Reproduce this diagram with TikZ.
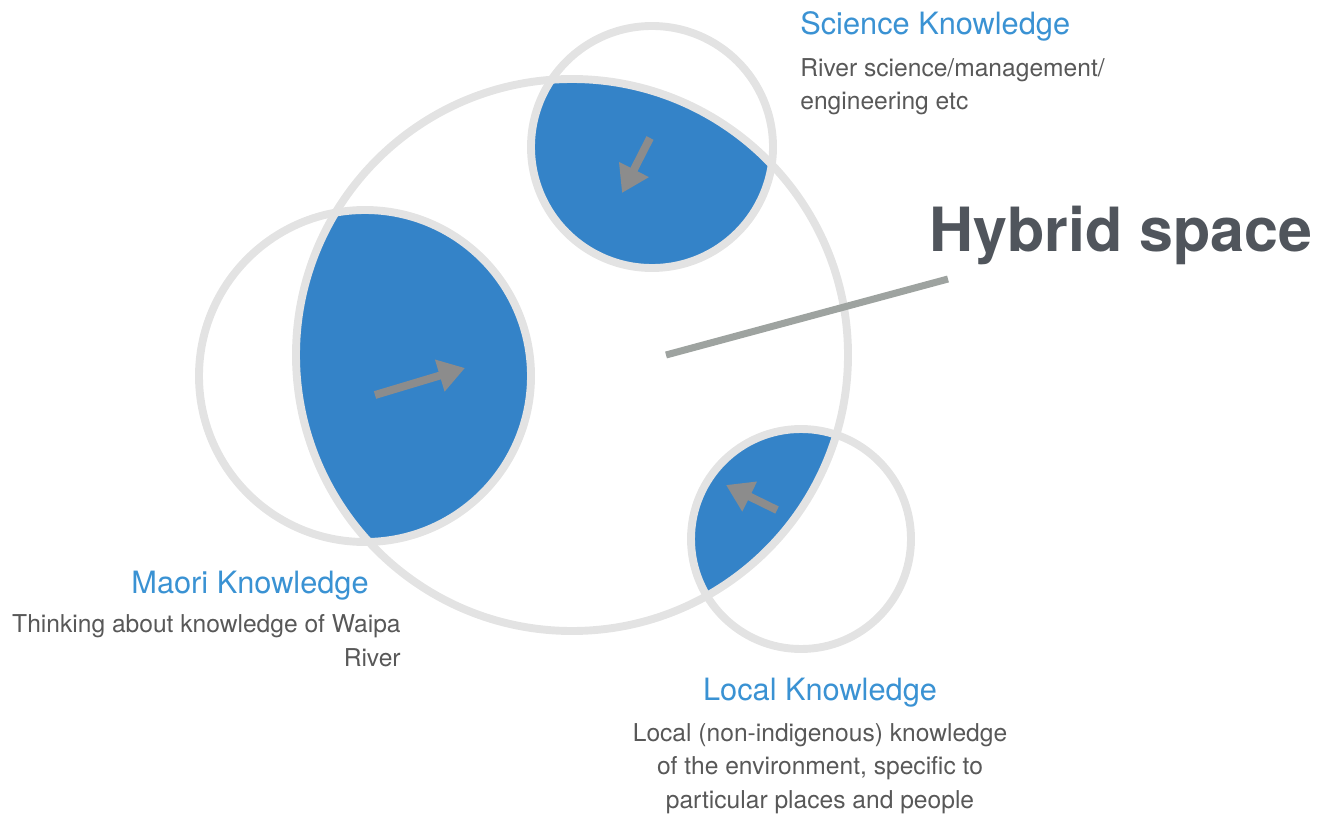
\documentclass[tikz,border=0pt]{standalone}
\usepackage{fontspec}
\setmainfont{TeX Gyre Heros}
\usetikzlibrary{arrows.meta,calc}
\definecolor{ringgray}{RGB}{227,227,227}
\definecolor{lensblue}{RGB}{52,131,200}
\definecolor{headblue}{RGB}{58,146,211}
\definecolor{bodygray}{RGB}{88,88,88}
\definecolor{arrowgray}{RGB}{140,140,140}
\definecolor{pointgray}{RGB}{158,163,160}
\definecolor{titlegray}{RGB}{80,85,92}

\begin{document}
\begin{tikzpicture}[x=0.02cm,y=-0.02cm, line join=round,
  ring/.style={draw=ringgray,line width=4.5pt},
  flow/.style={draw=arrowgray,line width=4.5pt,-{Triangle[length=15pt,width=18pt]}},
  head/.style={text=headblue,inner sep=0pt,font=\fontsize{17.5}{21}\selectfont},
  body/.style={text=bodygray,inner sep=0pt,font=\fontsize{14}{18.8}\selectfont}]
\useasboundingbox (0,0) rectangle (1331,814);
\coordinate (H) at (572,355);   % hybrid space
\coordinate (S) at (652,147);   % science
\coordinate (M) at (365,376);   % maori
\coordinate (L) at (801,539);   % local
% overlaps
\begin{scope}
\clip (H) circle (276);
\fill[lensblue] (S) circle (121) (M) circle (166) (L) circle (110);
\end{scope}
\draw[ring] (H) circle (276);
\draw[ring] (S) circle (121);
\draw[ring] (M) circle (166);
\draw[ring] (L) circle (110);
% arrows into the hybrid space
\coordinate (s1) at (650,138);  \coordinate (s2) at (622,193);
\coordinate (m1) at (375,395);  \coordinate (m2) at (465,368);
\coordinate (l1) at (777,510);  \coordinate (l2) at (726,485);
\draw[flow] (s1)--(s2);
\draw[flow] (m1)--(m2);
\draw[flow] (l1)--(l2);
% labels
\node[anchor=base west,text=titlegray,inner sep=0pt,font=\fontsize{34.7}{40}\selectfont\bfseries] (hyb) at (929,252) {Hybrid space};
\coordinate (p1) at (666,355);
\coordinate (p2) at (948,279);
\draw[pointgray,line width=4pt] (p1)--(p2);
\node[head,anchor=base west] (sci) at (800,35) {Science Knowledge};
\node[body,anchor=base west,align=left] (scitxt) at (800,110) {River science/management/\\engineering etc};
\node[head,anchor=base east] (mao) at (369,593) {Maori Knowledge};
\node[body,anchor=base east,align=right] (maotxt) at (401,666) {Thinking about knowledge of Waipa\\River};
\node[head,anchor=base] (loc) at (820,700) {Local Knowledge};
\node[body,anchor=base,align=center] (loctxt) at (820,808) {Local (non-indigenous) knowledge\\of the environment, specific to\\particular places and people};
\end{tikzpicture}
\end{document}
